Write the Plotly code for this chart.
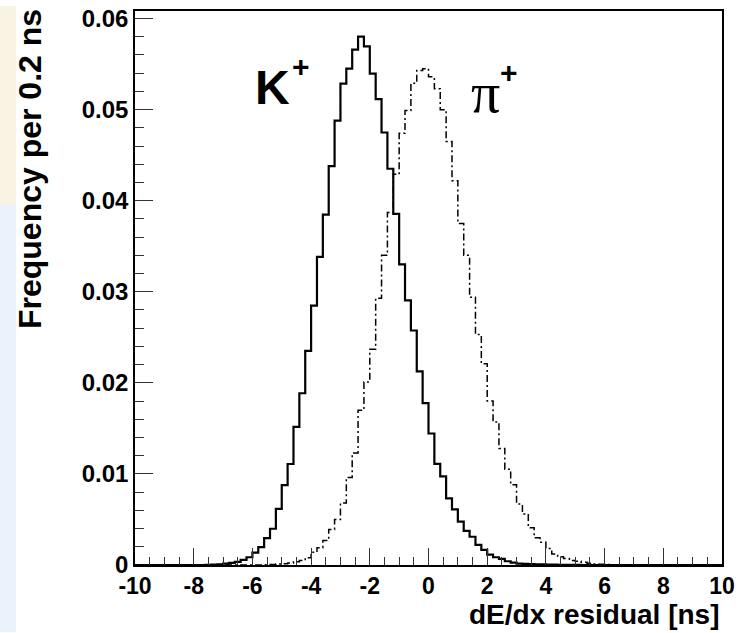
import numpy as np
import plotly.graph_objects as go

# ---- data: frequency per 0.2 ns bin, 100 bins from -10 to 10 ns ----
bin_lo, bin_hi, n_bins = -10.0, 10.0, 100

kaon_freq = [0]*12 + [
    0.00003, 0.00005, 0.00008, 0.00014, 0.00024, 0.00035, 0.00056, 0.00085,
    0.00135, 0.00197, 0.00294, 0.00398, 0.00616, 0.00876, 0.01109, 0.01517,
    0.01886, 0.02352, 0.02847, 0.03384, 0.03847, 0.04380, 0.04880, 0.05286,
    0.05450, 0.05659, 0.05801, 0.05695, 0.05395, 0.05116, 0.04749, 0.04351,
    0.03855, 0.03300, 0.02905, 0.02575, 0.02126, 0.01778, 0.01444, 0.01111,
    0.00973, 0.00731, 0.00611, 0.00476, 0.00375, 0.00310, 0.00220, 0.00165,
    0.00114, 0.00085, 0.00067, 0.00041, 0.00027, 0.00016, 0.00012, 0.00010,
    0.00008, 0.00006, 0.00005, 0.00004, 0.00003, 0.00002, 0.00002, 0.00001,
] + [0]*24

pion_freq = [0]*22 + [
    0.00003, 0.00006, 0.00010, 0.00015, 0.00022, 0.00035, 0.00050, 0.00080,
    0.00140, 0.00190, 0.00270, 0.00390, 0.00500, 0.00680, 0.00960, 0.01230,
    0.01700, 0.02010, 0.02370, 0.02930, 0.03400, 0.03870, 0.04290, 0.04740,
    0.04990, 0.05290, 0.05430, 0.05450, 0.05360, 0.05230, 0.05000, 0.04650,
    0.04220, 0.03750, 0.03400, 0.02940, 0.02530, 0.02210, 0.01800, 0.01570,
    0.01280, 0.01050, 0.00880, 0.00670, 0.00560, 0.00410, 0.00300, 0.00250,
    0.00180, 0.00120, 0.00090, 0.00070, 0.00050, 0.00040, 0.00030, 0.00020,
    0.00012, 0.00008, 0.00005, 0.00003,
] + [0]*18

x_tick_vals = [-10, -8, -6, -4, -2, 0, 2, 4, 6, 8, 10]
x_tick_text = ["-10", "-8", "-6", "-4", "-2", "0", "2", "4", "6", "8", "10"]
y_tick_vals = [0, 0.01, 0.02, 0.03, 0.04, 0.05, 0.06]
y_tick_text = ["0", "0.01", "0.02", "0.03", "0.04", "0.05", "0.06"]

x_title = "dE/dx residual [ns]"
y_title = "Frequency per 0.2 ns"

edges = np.linspace(bin_lo, bin_hi, n_bins + 1)

def step_y(vals):
    return list(vals) + [vals[-1]]

FONT = "Liberation Sans, Arial, sans-serif"

fig = go.Figure()
fig.add_trace(go.Scatter(
    x=edges, y=step_y(pion_freq), mode="lines", line_shape="hv",
    line=dict(color="black", width=1.5, dash="7px,3px,2px,3px"),
    name="pi+", showlegend=False, hoverinfo="skip"))
fig.add_trace(go.Scatter(
    x=edges, y=step_y(kaon_freq), mode="lines", line_shape="hv",
    line=dict(color="black", width=2.2),
    name="K+", showlegend=False, hoverinfo="skip"))

W, H = 746, 633
ml, mr, mt, mb = 135, 24, 5, 68
pw, ph = W - ml - mr, H - mt - mb

def px_x(px):
    return (px - ml) / pw

def px_y(py):
    return (H - mb - py) / ph

fig.update_layout(
    width=W, height=H,
    margin=dict(l=ml, r=mr, t=mt, b=mb, pad=0),
    paper_bgcolor="white", plot_bgcolor="white",
    font=dict(family=FONT, color="black"),
    xaxis=dict(
        range=[bin_lo, bin_hi], showgrid=False, zeroline=False,
        showline=True, linecolor="black", linewidth=1.5, mirror=True,
        ticks="inside", ticklen=17, tickwidth=1, tickcolor="#333",
        tickvals=x_tick_vals, ticktext=x_tick_text,
        tickfont=dict(family=FONT, size=23, weight="bold", color="black"),
        minor=dict(dtick=0.5, ticks="inside", ticklen=8, tickwidth=1, tickcolor="#333"),
    ),
    yaxis=dict(
        range=[0, 0.06083], showgrid=False, zeroline=False,
        showline=True, linecolor="black", linewidth=1.5, mirror=True,
        ticks="inside", ticklen=18, tickwidth=1, tickcolor="#333",
        tickvals=y_tick_vals, ticktext=y_tick_text,
        tickfont=dict(family=FONT, size=24, weight="bold", color="black"),
        minor=dict(dtick=0.002, ticks="inside", ticklen=9, tickwidth=1, tickcolor="#333"),
    ),
)

# faint slide background on the far left
fig.add_shape(type="rect", xref="paper", yref="paper", layer="below",
              x0=px_x(0), x1=px_x(16), y0=px_y(0), y1=px_y(200),
              fillcolor="#F8F3E2", line_width=0)
fig.add_shape(type="rect", xref="paper", yref="paper", layer="below",
              x0=px_x(0), x1=px_x(16), y0=px_y(200), y1=px_y(633),
              fillcolor="#EAF3FB", line_width=0)

# axis titles
fig.add_annotation(text=x_title, xref="paper", yref="paper",
                   x=px_x(722), y=px_y(615), xanchor="right", yanchor="middle",
                   showarrow=False,
                   font=dict(family=FONT, size=28, weight="bold", color="black"))
fig.add_annotation(text=y_title, xref="paper", yref="paper", textangle=-90,
                   x=px_x(30), y=px_y(1), xanchor="center", yanchor="top",
                   showarrow=False,
                   font=dict(family=FONT, size=32, weight="bold", color="black"))

# particle labels
fig.add_annotation(text="K", xref="x", yref="y",
                   x=-5.3, y=0.0524, xanchor="center", yanchor="middle",
                   showarrow=False,
                   font=dict(family=FONT, size=48, weight="bold", color="black"))
fig.add_annotation(text="+", xref="x", yref="y",
                   x=-4.33, y=0.0547, xanchor="center", yanchor="middle",
                   showarrow=False,
                   font=dict(family=FONT, size=30, weight="bold", color="black"))
fig.add_annotation(text="π", xref="x", yref="y",
                   x=1.95, y=0.0519, xanchor="center", yanchor="middle",
                   showarrow=False,
                   font=dict(family="Liberation Serif, Times New Roman, serif", size=58, color="black"))
fig.add_annotation(text="+", xref="x", yref="y",
                   x=2.75, y=0.0541, xanchor="center", yanchor="middle",
                   showarrow=False,
                   font=dict(family=FONT, size=30, weight="bold", color="black"))

fig.write_html("out.html", config={"displayModeBar": False},
               post_script="document.body.style.margin='0px';")
